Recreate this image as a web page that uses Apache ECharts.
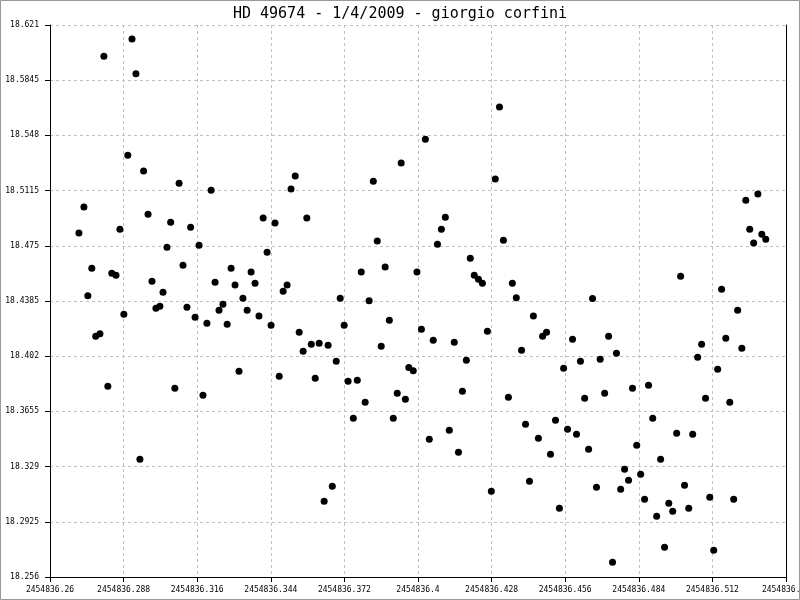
<!DOCTYPE html>
<html>
<head>
<meta charset="utf-8">
<script src="https://cdn.jsdelivr.net/npm/echarts@6/dist/echarts.min.js"></script>
<style>
html,body{margin:0;padding:0;background:#fff;overflow:hidden;}
#chart{width:800px;height:600px;}
</style>
</head>
<body>
<div id="chart"></div>
<script>
const titleText = "HD 49674 - 1/4/2009 - giorgio corfini";

const jd = [
2454836.2710,2454836.2729,2454836.2744,2454836.2759,2454836.2774,2454836.2790,2454836.2805,2454836.2820,2454836.2835,2454836.2851,
2454836.2866,2454836.2881,2454836.2896,2454836.2912,2454836.2927,2454836.2942,2454836.2956,2454836.2973,2454836.2988,2454836.3003,
2454836.3018,2454836.3030,2454836.3045,2454836.3059,2454836.3075,2454836.3091,2454836.3106,2454836.3121,2454836.3135,2454836.3152,
2454836.3167,2454836.3182,2454836.3197,2454836.3213,2454836.3228,2454836.3243,2454836.3258,2454836.3274,2454836.3289,2454836.3304,
2454836.3319,2454836.3334,2454836.3350,2454836.3365,2454836.3380,2454836.3395,2454836.3411,2454836.3426,2454836.3441,2454836.3456,
2454836.3472,2454836.3487,2454836.3502,2454836.3517,2454836.3533,2454836.3548,2454836.3563,2454836.3577,2454836.3594,2454836.3609,
2454836.3624,2454836.3643,2454836.3658,2454836.3674,2454836.3689,2454836.3704,2454836.3719,2454836.3734,2454836.3754,2454836.3769,
2454836.3784,2454836.3799,2454836.3814,2454836.3830,2454836.3845,2454836.3860,2454836.3875,2454836.3891,2454836.3906,2454836.3921,
2454836.3936,2454836.3952,2454836.3965,2454836.3982,2454836.3996,2454836.4013,2454836.4028,2454836.4043,2454836.4058,2454836.4074,
2454836.4089,2454836.4104,2454836.4119,2454836.4138,2454836.4154,2454836.4169,2454836.4184,2454836.4199,2454836.4214,2454836.4230,
2454836.4245,2454836.4264,2454836.4279,2454836.4294,2454836.4310,2454836.4325,2454836.4344,2454836.4359,2454836.4374,2454836.4394,
2454836.4409,2454836.4424,2454836.4439,2454836.4458,2454836.4474,2454836.4489,2454836.4504,2454836.4523,2454836.4538,2454836.4554,
2454836.4569,2454836.4588,2454836.4603,2454836.4618,2454836.4634,2454836.4649,2454836.4664,2454836.4679,2454836.4693,2454836.4710,
2454836.4725,2454836.4740,2454836.4755,2454836.4771,2454836.4786,2454836.4801,2454836.4816,2454836.4832,2454836.4847,2454836.4862,
2454836.4877,2454836.4893,2454836.4908,2454836.4923,2454836.4938,2454836.4954,2454836.4969,2454836.4984,2454836.4999,2454836.5014,
2454836.5030,2454836.5045,2454836.5064,2454836.5079,2454836.5094,2454836.5110,2454836.5125,2454836.5140,2454836.5155,2454836.5171,
2454836.5186,2454836.5201,2454836.5216,2454836.5232,2454836.5247,2454836.5262,2454836.5277,2454836.5293,2454836.5308,2454836.5323
];

const mag = [
18.4834,18.5006,18.4419,18.4602,18.4152,18.4169,18.6004,18.3821,18.4569,18.4556,
18.4860,18.4298,18.5349,18.6117,18.5887,18.3339,18.5244,18.4959,18.4516,18.4337,
18.4351,18.4443,18.4741,18.4906,18.3808,18.5164,18.4622,18.4344,18.4873,18.4278,
18.4754,18.3762,18.4238,18.5118,18.4509,18.4324,18.4364,18.4232,18.4602,18.4490,
18.3921,18.4404,18.4324,18.4576,18.4503,18.4285,18.4933,18.4708,18.4225,18.4900,
18.3888,18.4450,18.4490,18.5125,18.5211,18.4179,18.4053,18.4933,18.4099,18.3874,
18.4106,18.3061,18.4093,18.3160,18.3987,18.4404,18.4225,18.3855,18.3610,18.3861,
18.4576,18.3716,18.4386,18.5177,18.4781,18.4086,18.4609,18.4258,18.3610,18.3775,
18.5297,18.3735,18.3945,18.3923,18.4576,18.4199,18.5455,18.3471,18.4126,18.4761,
18.4860,18.4939,18.3530,18.4113,18.3385,18.3788,18.3993,18.4668,18.4556,18.4529,
18.4503,18.4185,18.3127,18.5191,18.5667,18.4787,18.3749,18.4503,18.4406,18.4060,
18.3570,18.3193,18.4285,18.3478,18.4152,18.4179,18.3372,18.3597,18.3014,18.3941,
18.3537,18.4132,18.3504,18.3987,18.3742,18.3405,18.4402,18.3153,18.4000,18.3775,
18.4152,18.2657,18.4040,18.3140,18.3272,18.3200,18.3808,18.3431,18.3239,18.3074,
18.3828,18.3610,18.2962,18.3339,18.2757,18.3048,18.2995,18.3511,18.4549,18.3167,
18.3014,18.3504,18.4013,18.4099,18.3742,18.3087,18.2737,18.3934,18.4463,18.4139,
18.3716,18.3074,18.4324,18.4073,18.5052,18.4860,18.4769,18.5092,18.4827,18.4794
];

const xMin = 2454836.26, xMax = 2454836.54, xStep = 0.028;
const yMin = 18.256, yMax = 18.621, yStep = 0.0365;

const points = jd.map((x, i) => [x, mag[i]]);
const mono = '"DejaVu Sans Mono", "Liberation Mono", monospace';

const chart = echarts.init(document.getElementById('chart'), null, {renderer: 'canvas'});
chart.setOption({
  animation: false,
  backgroundColor: '#ffffff',
  title: {
    text: titleText,
    left: 'center',
    top: 2,
    textStyle: {fontFamily: mono, fontSize: 15, fontWeight: 'normal', color: '#000'}
  },
  grid: {left: 50, right: 14, top: 25, bottom: 23, containLabel: false, outerBoundsMode: 'none'},
  xAxis: {
    type: 'value',
    min: xMin, max: xMax, interval: xStep,
    axisLine: {show: true, onZero: false, lineStyle: {color: '#000', width: 1}},
    axisTick: {show: true, length: 5, lineStyle: {color: '#000'}},
    axisLabel: {
      fontFamily: mono, fontSize: 8, color: '#000', margin: 9,
      showMinLabel: true, showMaxLabel: true, hideOverlap: false,
      formatter: v => String(+v.toFixed(3))
    },
    splitLine: {show: true, lineStyle: {color: '#c0c0c0', type: [3, 3], width: 1}}
  },
  yAxis: [{
    type: 'value',
    min: yMin, max: yMax, interval: yStep,
    axisLine: {show: true, onZero: false, lineStyle: {color: '#000', width: 1}},
    axisTick: {show: true, length: 5, lineStyle: {color: '#000'}},
    axisLabel: {
      fontFamily: mono, fontSize: 8, color: '#000', margin: 11,
      showMinLabel: true, showMaxLabel: true,
      formatter: v => String(+v.toFixed(4))
    },
    splitLine: {show: true, lineStyle: {color: '#c0c0c0', type: [3, 3], width: 1}}
  }, {
    type: 'value',
    position: 'right',
    min: yMin, max: yMax, interval: yStep,
    axisLine: {show: true, onZero: false, lineStyle: {color: '#000', width: 1}},
    axisTick: {show: false},
    axisLabel: {show: false},
    splitLine: {show: false}
  }],
  graphic: [{
    type: 'rect',
    shape: {x: 0.5, y: 0.5, width: 799, height: 599},
    style: {fill: 'none', stroke: '#999999', lineWidth: 1},
    silent: true
  }],
  series: [{
    type: 'scatter',
    data: points,
    symbol: 'circle',
    symbolSize: 7,
    itemStyle: {color: '#000', opacity: 1},
    clip: false
  }]
});
</script>
</body>
</html>
